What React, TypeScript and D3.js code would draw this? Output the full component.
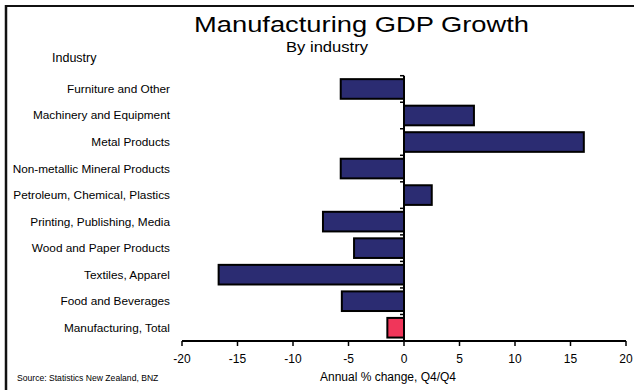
import React from "react";
import * as d3 from "d3";

const categories = [
  "Furniture and Other",
  "Machinery and Equipment",
  "Metal Products",
  "Non-metallic Mineral Products",
  "Petroleum, Chemical, Plastics",
  "Printing, Publishing, Media",
  "Wood and Paper Products",
  "Textiles, Apparel",
  "Food and Beverages",
  "Manufacturing, Total",
];
const values = [-5.7, 6.3, 16.2, -5.7, 2.5, -7.3, -4.5, -16.7, -5.6, -1.5];
const xTicks = [-20, -15, -10, -5, 0, 5, 10, 15, 20];

const W = 634;
const H = 390;
const FONT = "'Liberation Sans', Arial, Helvetica, sans-serif";

export default function App() {
  const x = d3.scaleLinear().domain([-20, 20]).range([182, 626]);
  const y = d3
    .scaleBand<string>()
    .domain(categories)
    .range([75.7, 341])
    .paddingInner(0.26)
    .paddingOuter(0.13);
  const step = y.step();
  const x0 = x(0);
  const boundaries = d3.range(categories.length).map((i) => 75.7 + i * step);

  return (
    <svg
      width={W}
      height={H}
      style={{ position: "absolute", left: 0, top: 0, background: "#fff" }}
      fontFamily={FONT}
    >
      <rect x={0} y={0} width={W} height={H} fill="#fff" />
      {/* frame */}
      <line x1={6} x2={W} y1={6} y2={6} stroke="#111" strokeWidth={2} />
      <line x1={6} x2={6} y1={5} y2={H} stroke="#111" strokeWidth={2.5} />

      <text
        x={194}
        y={32}
        fontSize={22}
        fill="#000"
        textLength={335}
        lengthAdjust="spacingAndGlyphs"
      >
        Manufacturing GDP Growth
      </text>
      <text
        x={286}
        y={52}
        fontSize={15.5}
        fill="#000"
        textLength={82}
        lengthAdjust="spacingAndGlyphs"
      >
        By industry
      </text>
      <text x={52} y={62} fontSize={12.5} fill="#000">
        Industry
      </text>

      {categories.map((c, i) => {
        const v = values[i];
        const total = i === categories.length - 1;
        return (
          <g key={c}>
            <text
              x={170}
              y={(y(c) as number) + y.bandwidth() / 2 + 4}
              textAnchor="end"
              fontSize={11.8}
              fill="#000"
            >
              {c}
            </text>
            <rect
              x={Math.min(x(v), x0)}
              y={y(c)}
              width={Math.abs(x(v) - x0)}
              height={y.bandwidth()}
              fill={total ? "#F0365A" : "#2B2C72"}
              stroke="#000"
              strokeWidth={2}
            />
          </g>
        );
      })}

      {/* zero axis with category ticks */}
      <line x1={x0} x2={x0} y1={75.7} y2={341} stroke="#000" strokeWidth={2} />
      {boundaries.map((b, i) => (
        <line key={i} x1={x0 - 4} x2={x0} y1={b} y2={b} stroke="#000" strokeWidth={1.5} />
      ))}

      {/* x axis */}
      <line x1={x(-20)} x2={x(20)} y1={341} y2={341} stroke="#000" strokeWidth={2} />
      {xTicks.map((t) => (
        <g key={t}>
          <line x1={x(t)} x2={x(t)} y1={341} y2={346} stroke="#000" strokeWidth={1.5} />
          <text x={x(t)} y={363} textAnchor="middle" fontSize={12} fill="#000">
            {t}
          </text>
        </g>
      ))}
      <text x={388} y={381} textAnchor="middle" fontSize={12} fill="#000">
        Annual % change, Q4/Q4
      </text>
      <text x={17} y={381} fontSize={8.6} fill="#000">
        Source: Statistics New Zealand,  BNZ
      </text>
    </svg>
  );
}
